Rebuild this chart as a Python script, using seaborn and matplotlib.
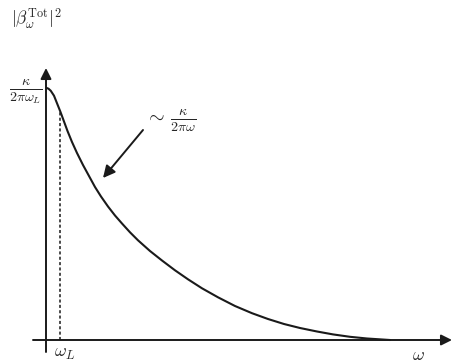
import numpy as np
import pandas as pd
import matplotlib
matplotlib.use("Agg")
import matplotlib.pyplot as plt
import seaborn as sns

# Curve (schematic units: omega and |beta|^2 in arbitrary units)
omega = [0.7, 2.5, 4.7, 8.0, 11.3, 14.5, 18.0, 21.5, 26.0, 31.0, 37.0, 43.0, 49.0, 55.0,
         62.0, 69.0, 76.0, 84.0, 92.0, 104.0, 116.0, 129.0, 142.0, 156.0, 172.0, 189.0,
         206.0, 222.0, 238.0, 254.0, 271.0, 287.0, 304.0, 321.0, 344.0]
beta2 = [252.0, 251.3, 249.3, 244.3, 236.0, 228.0, 218.5, 209.0, 198.0, 187.0, 175.0, 164.0,
         153.0, 143.5, 133.5, 124.5, 116.5, 107.7, 99.7, 89.0, 79.5, 69.7, 60.7, 51.7, 42.7,
         34.0, 26.8, 21.0, 16.0, 12.0, 8.5, 5.6, 3.2, 1.5, 0.0]
omega_L = 14.5
beta2_L = 228.0

sns.set_style("white")
plt.rcParams["mathtext.fontset"] = "cm"

fig = plt.figure(figsize=(4.71, 3.63), dpi=100)
ax = fig.add_axes([0, 0, 1, 1])
ax.set_xlim(-46, 425)
ax.set_ylim(-23, 340)
ax.axis("off")

df = pd.DataFrame({"omega": omega, "beta2": beta2})
sns.lineplot(data=df, x="omega", y="beta2", ax=ax, color="#1a1a1a", lw=1.5,
             legend=False, solid_joinstyle="round", solid_capstyle="round")

ink = "#1a1a1a"
# axes with arrows
ax.annotate("", xy=(406, 0), xytext=(-13, 0),
            arrowprops=dict(arrowstyle="-|>", lw=1.4, color=ink, mutation_scale=16,
                            shrinkA=0, shrinkB=0))
ax.annotate("", xy=(0, 272), xytext=(0, -12),
            arrowprops=dict(arrowstyle="-|>", lw=1.4, color=ink, mutation_scale=16,
                            shrinkA=0, shrinkB=0))

# dashed line at omega_L
ax.plot([omega_L, omega_L], [0, beta2_L], ls=(0, (2, 1.5)), color=ink, lw=1.1)

# pointer arrow
ax.annotate("", xy=(57, 162), xytext=(97, 210),
            arrowprops=dict(arrowstyle="-|>", lw=1.4, color=ink, mutation_scale=18,
                            shrinkA=0, shrinkB=0))

ax.text(-10, 321, r"$|\beta_\omega^{\rm Tot}|^2$", fontsize=12.5, ha="center", va="center")
ax.text(-4, 248, r"$\frac{\kappa}{2\pi\omega_L}$", fontsize=14.5, ha="right", va="center")
ax.text(99, 219, r"$\sim\, \frac{\kappa}{2\pi\omega}$", fontsize=14.5, ha="left", va="center")
ax.text(19, -13, r"$\omega_L$", fontsize=13, ha="center", va="center")
ax.text(372, -15, r"$\omega$", fontsize=13, ha="center", va="center")

fig.savefig("out.png", dpi=100)
